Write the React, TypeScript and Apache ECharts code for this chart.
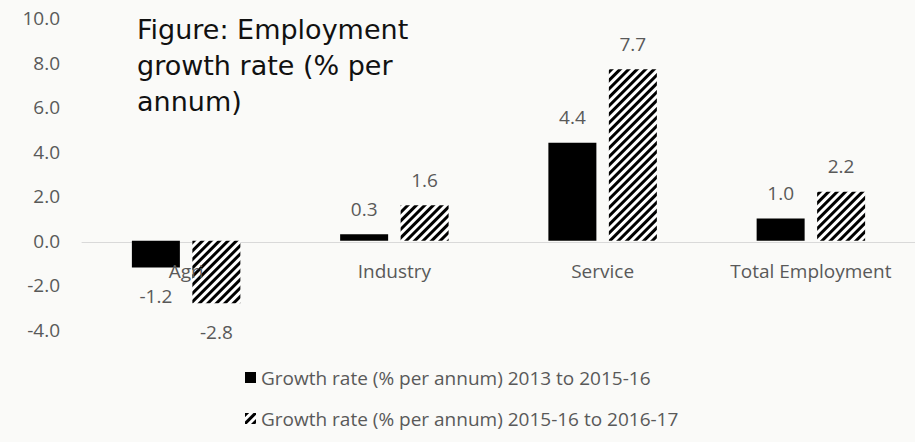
import React, { useEffect, useRef } from "react";
import * as echarts from "echarts";

const categories = ["Agri", "Industry", "Service", "Total Employment"];
const series1Name = "Growth rate (% per annum) 2013 to 2015-16";
const series2Name = "Growth rate (% per annum) 2015-16 to 2016-17";
const series1 = [-1.2, 0.3, 4.4, 1.0];
const series2 = [-2.8, 1.6, 7.7, 2.2];
const titleText = "Figure: Employment\ngrowth rate (% per\nannum)";

const FONT = "'Open Sans', 'Noto Sans', sans-serif";
const GREY = "#595959";

const decal = {
  symbol: "rect",
  symbolSize: 1,
  dashArrayX: [1, 0],
  dashArrayY: [2.5, 2.5],
  rotation: -Math.PI / 4,
  color: "#000",
};

function toItems(vals: number[]) {
  return vals.map((v) => ({
    value: v,
    label: v < 0 ? { position: "bottom", distance: 19 } : { position: "top", distance: 16 },
  }));
}

export default function App() {
  const ref = useRef<HTMLDivElement>(null);
  useEffect(() => {
    document.body.style.margin = "0";
    const chart = echarts.init(ref.current!, null, { renderer: "svg" });
    const labelCommon = {
      show: true,
      color: GREY,
      fontSize: 19,
      fontFamily: FONT,
      formatter: (p: any) => Number(p.value).toFixed(1),
    };
    chart.setOption({
      animation: false,
      backgroundColor: "#fafaf8",
      textStyle: { fontFamily: FONT },
      graphic: [
        {
          type: "text",
          left: 137,
          top: 11,
          style: {
            text: titleText,
            font: "27px 'DejaVu Sans', sans-serif",
            fill: "#111",
            lineHeight: 36,
          },
        },
      ],
      legend: {
        orient: "vertical",
        left: 240,
        top: 363,
        itemWidth: 11,
        itemHeight: 11,
        itemGap: 22,
        icon: "rect",
        textStyle: { color: GREY, fontSize: 19, fontFamily: FONT },
        data: [series1Name, series2Name],
      },
      grid: { left: 82, right: -15, top: 18, bottom: 112, containLabel: false },
      xAxis: [
        {
          type: "category",
          data: categories,
          position: "bottom",
          offset: -88,
          axisLine: { onZero: false, lineStyle: { color: "#d9d9d9", width: 1 } },
          axisTick: { show: false },
          axisLabel: { show: false },
          z: 0,
        },
        {
          type: "category",
          data: categories,
          position: "bottom",
          offset: -88,
          axisLine: { show: false, onZero: false },
          axisTick: { show: false },
          splitLine: { show: false },
          axisLabel: { color: GREY, fontSize: 19, fontFamily: FONT, margin: 19, interval: 0 },
          zlevel: 1,
          z: 10,
        },
      ],
      yAxis: {
        type: "value",
        min: -4,
        max: 10,
        interval: 2,
        axisLine: { show: false },
        axisTick: { show: false },
        splitLine: { show: false },
        axisLabel: {
          color: GREY,
          fontSize: 19,
          fontFamily: FONT,
          margin: 22,
          formatter: (v: number) => v.toFixed(1),
        },
      },
      series: [
        {
          name: series1Name,
          type: "bar",
          xAxisIndex: 0,
          data: toItems(series1),
          barWidth: 48,
          barGap: "26%",
          itemStyle: { color: "#000" },
          label: labelCommon,
          z: 2,
        },
        {
          name: series2Name,
          type: "bar",
          xAxisIndex: 0,
          data: toItems(series2),
          barWidth: 48,
          barGap: "26%",
          itemStyle: { color: "#fff", decal },
          label: labelCommon,
          z: 2,
        },
      ],
    });
    return () => chart.dispose();
  }, []);
  return <div ref={ref} style={{ width: 915, height: 442 }} />;
}
